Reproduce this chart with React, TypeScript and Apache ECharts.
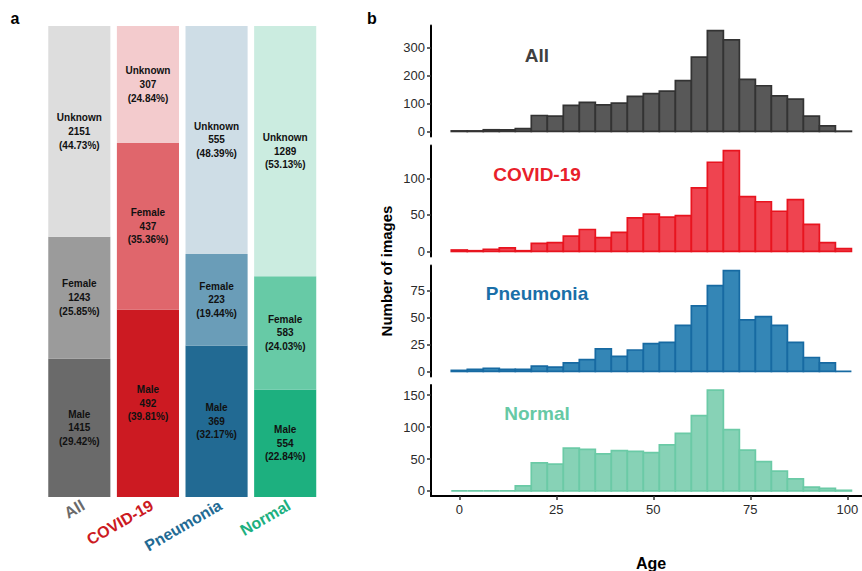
import React, { useEffect, useRef } from "react";
import * as echarts from "echarts";

// ---------- Panel a: sex composition ----------
const groups = ["All", "COVID-19", "Pneumonia", "Normal"];
const maleCount = [1415, 492, 369, 554];
const femaleCount = [1243, 437, 223, 583];
const unknownCount = [2151, 307, 555, 1289];
const malePct = [29.42, 39.81, 32.17, 22.84];
const femalePct = [25.85, 35.36, 19.44, 24.03];
const unknownPct = [44.73, 24.84, 48.39, 53.13];

// ---------- Panel b: age histograms (25 bins, width 4.125, centred on 0..99) ----------
const binWidth = 4.125;
const binFirstCenter = 0;
const histAll = [2, 2, 6, 6, 10, 57, 55, 93, 104, 95, 101, 125, 135, 144, 181, 265, 360, 327, 186, 163, 127, 115, 55, 20, 1];
const histCovid = [2, 1, 3, 5, 1, 11, 12, 21, 30, 19, 26, 46, 51, 47, 49, 87, 122, 138, 75, 68, 55, 71, 37, 12, 4];
const histPneu = [1, 2, 3, 2, 2, 5, 4, 8, 11, 21, 14, 20, 26, 27, 43, 61, 80, 94, 48, 51, 43, 27, 13, 8, 0];
const histNormal = [0, 0, 0, 0, 8, 44, 42, 67, 65, 58, 63, 62, 60, 72, 90, 118, 158, 96, 64, 46, 31, 19, 6, 4, 1];
const histTicks = [
  [0, 100, 200, 300],
  [0, 50, 100],
  [0, 25, 50, 75],
  [0, 50, 100, 150],
];
const ageTicks = [0, 25, 50, 75, 100];

const FONT = "'Liberation Sans', Arial, Helvetica, sans-serif";

const groupColors = [
  { u: "#dddddd", f: "#9b9b9b", m: "#6a6a6a", text: "#6a6a6a" },
  { u: "#f3cbcd", f: "#e0666c", m: "#cc1a22", text: "#cc1a22" },
  { u: "#cedde6", f: "#6a9db8", m: "#226a93", text: "#226a93" },
  { u: "#cbece0", f: "#67caa6", m: "#1db07f", text: "#1db07f" },
];

const histStyles = [
  { fill: "#585858", stroke: "#333333", label: "All", labelColor: "#404040" },
  { fill: "#ef4450", stroke: "#e8141f", label: "COVID-19", labelColor: "#e8202a" },
  { fill: "#3486b6", stroke: "#176aa2", label: "Pneumonia", labelColor: "#1a6fa8" },
  { fill: "#87d2b6", stroke: "#6bcaa6", label: "Normal", labelColor: "#66c9a5" },
];

export default function App() {
  const ref = useRef<HTMLDivElement>(null);

  useEffect(() => {
    if (!ref.current) return;
    const chart = echarts.init(ref.current, undefined, { renderer: "svg" });

    const hists = [histAll, histCovid, histPneu, histNormal];
    const panelTops = [25.5, 145.5, 265.5, 385];
    const panelH = 111;
    const xMin = -7.29;
    const xMax = 103.79;

    const grids: any[] = [{ left: 45, width: 274.5, top: 26, height: 471 }];
    const xAxes: any[] = [
      {
        type: "category",
        gridIndex: 0,
        data: groups,
        axisLine: { show: false },
        axisTick: { show: false },
        axisLabel: {
          rotate: 30,
          margin: 0,
          align: "right",
          verticalAlign: "top",
          fontFamily: FONT,
          fontWeight: "bold",
          fontSize: 16,
          color: (_v: any, i: number) => groupColors[i].text,
        },
      },
    ];
    const yAxes: any[] = [
      { type: "value", gridIndex: 0, min: 0, max: 100, show: false },
    ];
    const series: any[] = [];

    const labelFor = (name: string, counts: number[], pcts: number[]) => ({
      show: true,
      position: "inside",
      fontFamily: FONT,
      fontWeight: "bold",
      fontSize: 10,
      lineHeight: 13.7,
      color: "#111",
      formatter: (p: any) =>
        `${name}\n${counts[p.dataIndex]}\n(${pcts[p.dataIndex].toFixed(2)}%)`,
    });

    const stackDefs = [
      { name: "Male", counts: maleCount, pcts: malePct, key: "m" },
      { name: "Female", counts: femaleCount, pcts: femalePct, key: "f" },
      { name: "Unknown", counts: unknownCount, pcts: unknownPct, key: "u" },
    ];
    stackDefs.forEach((s) => {
      series.push({
        type: "bar",
        name: s.name,
        xAxisIndex: 0,
        yAxisIndex: 0,
        stack: "sex",
        barCategoryGap: "9.5%",
        data: s.pcts.map((v, i) => ({
          value: v,
          itemStyle: { color: (groupColors[i] as any)[s.key] },
        })),
        label: labelFor(s.name, s.counts, s.pcts),
      });
    });

    hists.forEach((h, k) => {
      const gi = k + 1;
      const maxV = Math.max(...h);
      grids.push({ left: 431, right: 0, top: panelTops[k], height: panelH });
      const isBottom = k === 3;
      xAxes.push({
        type: "value",
        gridIndex: gi,
        min: xMin,
        max: xMax,
        splitLine: { show: false },
        axisLine: {
          show: isBottom,
          onZero: false,
          lineStyle: { color: "#000", width: 2 },
        },
        axisTick: {
          show: isBottom,
          length: 4,
          customValues: ageTicks,
          lineStyle: { color: "#333", width: 1.5 },
        },
        axisLabel: {
          show: isBottom,
          customValues: ageTicks,
          margin: 7,
          fontFamily: FONT,
          fontSize: 13,
          color: "#2a2a2a",
        },
      });
      yAxes.push({
        type: "value",
        gridIndex: gi,
        min: -0.05 * maxV,
        max: maxV * 1.05,
        splitLine: { show: false },
        axisLine: { show: true, onZero: false, lineStyle: { color: "#000", width: 2 } },
        axisTick: {
          show: true,
          length: 4,
          customValues: histTicks[k],
          lineStyle: { color: "#333", width: 1.5 },
        },
        axisLabel: {
          customValues: histTicks[k],
          margin: 6,
          fontFamily: FONT,
          fontSize: 13,
          color: "#2a2a2a",
        },
      });
      const st = histStyles[k];
      series.push({
        type: "custom",
        xAxisIndex: gi,
        yAxisIndex: gi,
        encode: { x: [0, 1], y: 2 },
        data: h.map((v, i) => {
          const c = binFirstCenter + i * binWidth;
          return [c - binWidth / 2, c + binWidth / 2, v];
        }),
        renderItem: (_params: any, api: any) => {
          const x0 = api.value(0);
          const x1 = api.value(1);
          const y = api.value(2);
          const p0 = api.coord([x0, y]);
          const p1 = api.coord([x1, 0]);
          return {
            type: "rect",
            shape: { x: p0[0], y: p0[1], width: p1[0] - p0[0], height: p1[1] - p0[1] },
            style: { fill: st.fill, stroke: st.stroke, lineWidth: 1.7 },
          };
        },
      });
    });

    const panelLabelY = [55.5, 174.5, 293.5, 413.5];
    const graphics: any[] = histStyles.map((st, k) => ({
      type: "text",
      x: 537,
      y: panelLabelY[k],
      style: {
        text: st.label,
        fill: st.labelColor,
        font: `bold 19px ${FONT}`,
        textAlign: "center",
        textVerticalAlign: "middle",
      },
    }));
    graphics.push(
      {
        type: "text",
        x: 15,
        y: 18,
        style: { text: "a", fill: "#000", font: `bold 16px ${FONT}`, textAlign: "center", textVerticalAlign: "middle" },
      },
      {
        type: "text",
        x: 372,
        y: 18,
        style: { text: "b", fill: "#000", font: `bold 16px ${FONT}`, textAlign: "center", textVerticalAlign: "middle" },
      },
      {
        type: "text",
        x: 386,
        y: 271,
        rotation: Math.PI / 2,
        style: {
          text: "Number of images",
          fill: "#000",
          font: `bold 15px ${FONT}`,
          textAlign: "center",
          textVerticalAlign: "middle",
        },
      },
      {
        type: "text",
        x: 651,
        y: 563,
        style: { text: "Age", fill: "#000", font: `bold 16px ${FONT}`, textAlign: "center", textVerticalAlign: "middle" },
      }
    );

    chart.setOption({
      animation: false,
      backgroundColor: "#fff",
      grid: grids,
      xAxis: xAxes,
      yAxis: yAxes,
      series,
      graphic: graphics,
    });

    return () => chart.dispose();
  }, []);

  return <div ref={ref} style={{ width: 862, height: 571, position: "absolute", left: 0, top: 0 }} />;
}
